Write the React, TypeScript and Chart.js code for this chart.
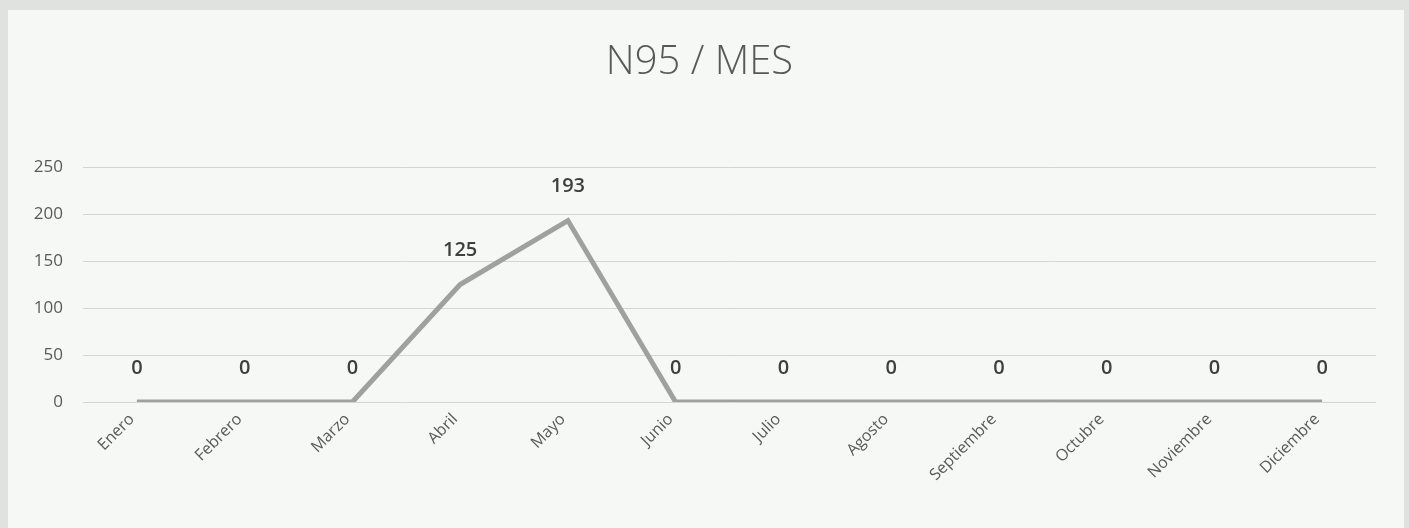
import React, { useEffect, useRef } from "react";
import { Chart, registerables } from "chart.js";

Chart.register(...registerables);

const months = [
  "Enero", "Febrero", "Marzo", "Abril", "Mayo", "Junio",
  "Julio", "Agosto", "Septiembre", "Octubre", "Noviembre", "Diciembre",
];
const n95Values = [0, 0, 0, 125, 193, 0, 0, 0, 0, 0, 0, 0];
const yTicks = [0, 50, 100, 150, 200, 250];
const chartTitle = "N95 / MES";

const FONT = "'Open Sans', 'Noto Sans', sans-serif";

const dataLabelPlugin = {
  id: "dataLabels",
  afterDatasetsDraw(chart: any) {
    const ctx = chart.ctx;
    const meta = chart.getDatasetMeta(0);
    const ds = chart.data.datasets[0];
    ctx.save();
    ctx.font = `600 20px ${FONT}`;
    ctx.fillStyle = "#3f3f3f";
    ctx.textAlign = "center";
    ctx.textBaseline = "middle";
    meta.data.forEach((pt: any, i: number) => {
      ctx.fillText(String(ds.data[i]), pt.x, pt.y - 34);
    });
    ctx.restore();
  },
};

export default function App() {
  const ref = useRef<HTMLCanvasElement | null>(null);

  useEffect(() => {
    if (!ref.current) return;
    const chart = new Chart(ref.current, {
      type: "line",
      data: {
        labels: months,
        datasets: [
          {
            label: chartTitle,
            data: n95Values,
            borderColor: "#a0a0a0",
            borderWidth: 5,
            pointRadius: 0,
            pointHoverRadius: 0,
            tension: 0,
            fill: false,
          },
        ],
      },
      options: {
        animation: false,
        responsive: false,
        maintainAspectRatio: false,
        layout: { padding: { left: 15, right: 19, top: 0, bottom: 0 } },
        plugins: {
          legend: { display: false },
          tooltip: { enabled: false },
          title: {
            display: true,
            text: chartTitle,
            color: "#595959",
            font: { family: FONT, size: 40, weight: "300" as any, lineHeight: 1.2 },
            padding: { top: 29, bottom: 80 },
          },
        },
        scales: {
          x: {
            offset: true,
            grid: { display: false, drawTicks: false },
            border: { display: false },
            ticks: {
              color: "#595959",
              font: { family: FONT, size: 16 },
              maxRotation: 45,
              minRotation: 45,
              autoSkip: false,
              padding: 8,
              labelOffset: -5,
            },
            afterFit(scale: any) {
              scale.height = 126;
            },
          },
          y: {
            min: 0,
            max: 250,
            afterBuildTicks(scale: any) {
              scale.ticks = yTicks.map((v) => ({ value: v }));
            },
            grid: { color: "#d4d6d4", lineWidth: 1, drawTicks: false },
            border: { display: false },
            ticks: {
              color: "#595959",
              font: { family: FONT, size: 17 },
              padding: 20,
            },
            afterFit(scale: any) {
              scale.width = 60;
            },
          },
        },
      },
      plugins: [dataLabelPlugin],
    });
    return () => chart.destroy();
  }, []);

  return (
    <div
      style={{
        position: "fixed",
        left: 0,
        top: 0,
        width: 1409,
        height: 528,
        background: "#dfe2df",
        overflow: "hidden",
      }}
    >
      <div
        style={{
          position: "absolute",
          left: 8,
          top: 10,
          width: 1396,
          height: 518,
          background: "#f6f8f6",
        }}
      >
        <canvas ref={ref} width={1387} height={518} style={{ display: "block" }} />
      </div>
    </div>
  );
}
